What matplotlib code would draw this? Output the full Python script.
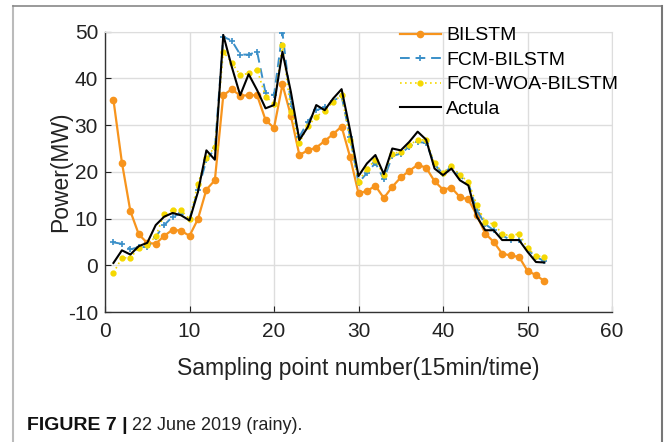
import matplotlib
matplotlib.use("Agg")
import matplotlib.pyplot as plt
from matplotlib.lines import Line2D

plt.rcParams['font.family'] = ['Liberation Sans', 'DejaVu Sans']
plt.rcParams['axes.unicode_minus'] = False

x = list(range(1, 53))

bilstm = [35.4, 22.0, 11.6, 6.6, 4.8, 4.6, 6.3, 7.6, 7.4, 6.3,
          9.9, 16.2, 18.2, 36.4, 37.7, 36.3, 36.4, 36.4, 31.1, 29.4,
          38.7, 32.0, 23.6, 24.6, 25.2, 26.6, 28.1, 29.7, 23.2, 15.4,
          15.9, 17.0, 14.4, 16.8, 18.8, 20.2, 21.5, 20.9, 18.0, 16.2,
          16.6, 14.6, 14.1, 10.7, 6.8, 5.0, 2.5, 2.1, 1.8, -1.2,
          -2.1, -3.4]

fcm_bilstm = [4.9, 4.6, 3.4, 3.9, 3.9, 6.1, 8.6, 10.4, 11.1, 9.9,
              16.1, 22.5, 25.0, 48.9, 48.1, 45.1, 45.1, 45.7, 36.9, 36.4,
              49.8, 34.6, 27.5, 30.7, 33.2, 33.8, 35.2, 36.2, 27.5, 17.6,
              19.8, 21.9, 18.4, 23.4, 23.9, 25.4, 26.4, 26.2, 21.6, 19.6,
              21.1, 19.1, 17.6, 11.8, 8.8, 7.5, 6.4, 5.4, 5.4, 3.4,
              1.8, 0.9]

fcm_woa_bilstm = [-1.6, 1.6, 1.6, 3.7, 4.3, 6.2, 10.9, 11.9, 11.8, 9.9,
                  17.5, 22.9, 25.4, 45.7, 43.4, 40.7, 41.1, 41.9, 36.1, 34.6,
                  47.1, 32.9, 26.2, 29.8, 31.8, 33.1, 35.0, 36.4, 26.8, 17.9,
                  20.7, 22.5, 19.3, 23.9, 24.3, 25.7, 26.9, 26.8, 21.8, 19.8,
                  21.3, 19.3, 17.9, 12.9, 9.3, 8.8, 6.8, 6.2, 6.8, 3.7,
                  2.0, 1.8]

actual = [0.5, 3.2, 2.3, 4.1, 4.8, 8.6, 10.4, 11.2, 10.7, 9.6,
          15.7, 24.6, 22.6, 49.3, 42.5, 36.4, 40.9, 37.5, 33.6, 34.3,
          45.7, 37.1, 26.8, 29.6, 34.3, 33.2, 35.7, 37.7, 28.9, 19.1,
          21.8, 23.6, 19.5, 25.0, 24.6, 26.4, 28.6, 26.9, 20.7, 19.3,
          20.7, 18.2, 17.1, 10.4, 7.5, 7.5, 5.4, 5.4, 5.4, 2.9,
          0.7, 0.6]

labels = ["BILSTM", "FCM-BILSTM", "FCM-WOA-BILSTM", "Actula"]
xticks = [0, 10, 20, 30, 40, 50, 60]
yticks = [-10, 0, 10, 20, 30, 40, 50]

W, H = 665, 442
fig = plt.figure(figsize=(W / 100, H / 100), dpi=100)
ax = fig.add_axes([105 / W, 1 - 312 / H, (612 - 105) / W, (312 - 31.7) / H])

orange = "#F7941D"
blue = "#3A8FC8"
yellow = "#F5D800"

ax.plot(x, bilstm, color=orange, lw=1.6, marker='o', ms=4.5, mfc=orange, mec=orange,
        label=labels[0], zorder=3)
ax.plot(x, fcm_bilstm, color=blue, lw=1.4, ls=(0, (5, 3)), marker='+', ms=4, mew=1.2,
        label=labels[1], zorder=4)
ax.plot(x, fcm_woa_bilstm, color=yellow, lw=1.2, ls=(0, (1, 2)), marker='o', ms=3.5,
        mfc=yellow, mec=yellow, label=labels[2], zorder=4)
ax.plot(x, actual, color="black", lw=1.5, label=labels[3], zorder=5)

ax.set_xlim(0, 60)
ax.set_ylim(-10, 50)
ax.set_xticks(xticks)
ax.set_yticks(yticks)
ax.grid(True, color="#DDDDDD", lw=1.0)
ax.set_axisbelow(True)
ax.tick_params(direction='in', length=4, labelsize=15, colors="#222222", pad=5)
ax.tick_params(axis='x', pad=7)
for s in ['top', 'right']:
    ax.spines[s].set_color("#DDDDDD")
for s in ['left', 'bottom']:
    ax.spines[s].set_color("#333333")
    ax.spines[s].set_linewidth(1.0)

ax.set_xlabel("Sampling point number(15min/time)", fontsize=16.5, color="#222222", labelpad=12)
ax.set_ylabel("Power(MW)", fontsize=16.5, color="#222222", labelpad=-3)

leg = ax.legend(loc='upper left', bbox_to_anchor=((392 - 105) / (612 - 105), 1.045),
                frameon=False, fontsize=14, handlelength=2.1, handletextpad=0.3,
                labelspacing=0.35, borderaxespad=0)

# figure frame
fig.add_artist(Line2D([13 / W, 13 / W], [0, 1 - 6 / H], transform=fig.transFigure,
                      color="#BBBBBB", lw=1.5))
fig.add_artist(Line2D([13 / W, 662 / W], [1 - 6 / H, 1 - 6 / H], transform=fig.transFigure,
                      color="#888888", lw=1.2))
fig.add_artist(Line2D([662 / W, 662 / W], [0, 1 - 6 / H], transform=fig.transFigure,
                      color="#777777", lw=1.5))

fig.text(27 / W, 1 - 426 / H, "FIGURE 7 |", fontsize=14, fontweight='bold',
         va='center', ha='left', color="#111111")
fig.text(132 / W, 1 - 426 / H, "22 June 2019 (rainy).", fontsize=13,
         va='center', ha='left', color="#222222")

fig.savefig("out.png", dpi=100)
